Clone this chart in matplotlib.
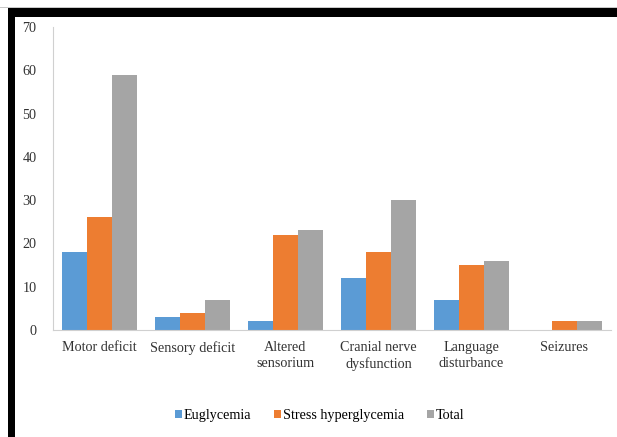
import numpy as np
import matplotlib.pyplot as plt
from matplotlib.patches import Rectangle

plt.rcParams['font.family'] = 'serif'
plt.rcParams['font.serif'] = ['Liberation Serif', 'Times New Roman', 'DejaVu Serif']

categories = ['Motor deficit', 'Sensory deficit', 'Altered\nsensorium',
              'Cranial nerve\ndysfunction', 'Language\ndisturbance', 'Seizures']
euglycemia = [18, 3, 2, 12, 7, 0]
stress_hyperglycemia = [26, 4, 22, 18, 15, 2]
total = [59, 7, 23, 30, 16, 2]

colors = ['#5B9BD5', '#ED7D31', '#A5A5A5']

fig = plt.figure(figsize=(6.17, 4.37), dpi=100)
ax = fig.add_axes([0.086, 0.245, 0.904, 0.693])

x = np.arange(len(categories))
w = 0.27
ax.bar(x - w, euglycemia, w, color=colors[0], label='Euglycemia')
ax.bar(x, stress_hyperglycemia, w, color=colors[1], label='Stress hyperglycemia')
ax.bar(x + w, total, w, color=colors[2], label='Total')

ax.set_xlim(-0.5, len(categories) - 0.5)
ax.set_ylim(0, 70)
ax.set_yticks(range(0, 71, 10))
ax.set_xticks(x)
ax.set_xticklabels(categories, linespacing=1.25)
ax.tick_params(axis='both', length=0, labelsize=10.2, colors='#333333')
ax.tick_params(axis='y', pad=12)
ax.tick_params(axis='x', pad=8)
for s in ['top', 'right']:
    ax.spines[s].set_visible(False)
for s in ['left', 'bottom']:
    ax.spines[s].set_color('#D0D0D0')

ax.legend(loc='center', bbox_to_anchor=(0.518, 0.05), bbox_transform=fig.transFigure,
          ncol=3, frameon=False, fontsize=10.2, handlelength=0.5, handleheight=0.5,
          handletextpad=0.15, columnspacing=1.6)

# black frame at top and left of the image (pixel units)
px = fig.dpi_scale_trans + plt.matplotlib.transforms.Affine2D().scale(1 / fig.dpi)
H = 437
fig.add_artist(Rectangle((8, 0), 7, H - 8, transform=px, color='black', lw=0, zorder=10))
fig.add_artist(Rectangle((8, H - 17), 617 - 8, 9, transform=px, color='black', lw=0, zorder=10))
fig.add_artist(Rectangle((0, H - 8), 617, 1, transform=px, color='#C8C8C8', lw=0, zorder=10))

plt.savefig('out.png', dpi=100)
